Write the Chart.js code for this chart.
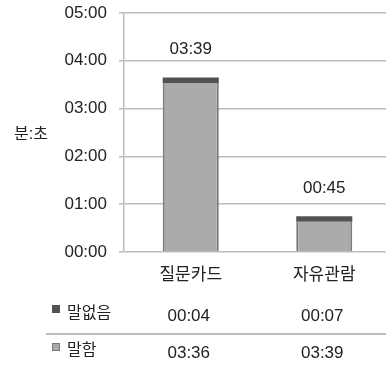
<!doctype html>
<html>
<head>
<meta charset="UTF-8">
<script src="https://cdn.jsdelivr.net/npm/chart.js@4.4.1/dist/chart.umd.min.js"></script>
<title>말함 / 말없음</title>
<style>
html, body { margin:0; padding:0; background:#fff; }
/* canvas is a little wider than the window so the plot runs off the right edge like the original */
#wrap { width:386px; height:365px; position:relative; overflow:hidden; }
</style>
</head>
<body>
<div id="wrap"><canvas id="BarChart" width="391" height="365"></canvas></div>

<script>
// categories and values (seconds)
var categories = ['질문카드', '자유관람'];
var speakSec = [212, 38];      // 말함 (light)
var silentSec = [7, 7];        // 말없음 (dark)
var yTicksMax = 300;
var yStep = 60;

// table text as printed under the chart
var seriesNames = ['말없음', '말함'];
var silentText = ['00:04', '00:07'];
var speakText = ['03:36', '03:39'];

var FONT = "'Liberation Sans', 'Noto Sans CJK KR', sans-serif";
var LIGHT = '#a9aaac', LIGHT_EDGE = '#7c7c7e', DARK = '#525252', GRID = '#bdbdbd', TXT = '#222';

function mmss(s) {
  var m = Math.floor(s / 60), r = Math.round(s % 60);
  return (m < 10 ? '0' : '') + m + ':' + (r < 10 ? '0' : '') + r;
}

// totals over bars, y title, table below
var extras = {
  id: 'extras',
  afterDraw: function(chart) {
    var c = chart.ctx, x = chart.scales.x, y = chart.scales.y;
    c.save();
    c.fillStyle = TXT;
    c.textAlign = 'center';
    c.textBaseline = 'middle';
    c.font = '17px ' + FONT;
    for (var i = 0; i < categories.length; i++) {
      var tot = speakSec[i] + silentSec[i];
      c.fillText(mmss(tot), x.getPixelForValue(i), y.getPixelForValue(tot) - 28);
    }
    // axis title
    c.font = '16px ' + FONT;
    c.fillText('분:초', 31, 135);

    // table
    c.textAlign = 'left';
    c.fillStyle = DARK;
    c.fillRect(52, 305, 8, 8);
    c.fillStyle = LIGHT;
    c.fillRect(52, 343, 8, 8);
    c.strokeStyle = LIGHT_EDGE;
    c.lineWidth = 1;
    c.strokeRect(52.5, 343.5, 7, 7);
    c.fillStyle = TXT;
    c.font = '16px ' + FONT;
    c.fillText(seriesNames[0], 67, 314);
    c.fillText(seriesNames[1], 67, 351);

    c.textAlign = 'center';
    c.font = '17px ' + FONT;
    for (var j = 0; j < categories.length; j++) {
      var px = x.getPixelForValue(j) - 2;
      c.fillText(silentText[j], px, 316);
      c.fillText(speakText[j], px, 353);
    }
    c.strokeStyle = GRID;
    c.lineWidth = 2;
    c.beginPath();
    c.moveTo(46, 334);
    c.lineTo(391, 334);
    c.stroke();
    c.restore();
  }
};

var ctx = document.getElementById('BarChart');
new Chart(ctx, {
  type: 'bar',
  data: {
    labels: categories,
    datasets: [{
      label: seriesNames[1],
      data: speakSec,
      backgroundColor: LIGHT,
      borderColor: LIGHT_EDGE,
      borderWidth: {left: 2, right: 2, top: 0, bottom: 0},
      borderSkipped: false,
      categoryPercentage: 1,
      barPercentage: 0.42
    }, {
      label: seriesNames[0],
      data: silentSec,
      backgroundColor: DARK,
      borderWidth: 0,
      categoryPercentage: 1,
      barPercentage: 0.42
    }]
  },
  options: {
    responsive: false,
    animation: false,
    layout: { padding: { top: 13, right: 0, left: 0, bottom: 0 } },
    plugins: { legend: { display: false }, tooltip: { enabled: false } },
    scales: {
      x: {
        stacked: true,
        grid: { display: false },
        border: { display: false },
        ticks: { color: TXT, font: { family: FONT, size: 17 }, padding: 5 },
        afterFit: function(s) { s.height = 113; s.paddingLeft = 0; s.paddingRight = 0; }
      },
      y: {
        stacked: true,
        min: 0,
        max: yTicksMax,
        grid: { color: GRID, lineWidth: 1.5, tickLength: 5 },
        border: { color: GRID, width: 1.5 },
        ticks: {
          stepSize: yStep,
          color: TXT,
          padding: 12,
          font: { family: FONT, size: 17 },
          callback: function(v) { return mmss(v); }
        },
        afterFit: function(s) { s.width = 124; s.paddingTop = 0; s.paddingBottom = 0; }
      }
    }
  },
  plugins: [extras]
});
</script>
</body>
</html>
